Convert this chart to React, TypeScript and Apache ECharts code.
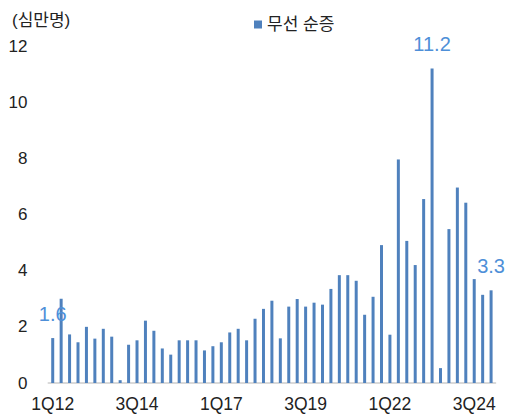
import React, { useEffect, useRef } from "react";
import * as echarts from "echarts";

const years = [12, 13, 14, 15, 16, 17, 18, 19, 20, 21, 22, 23, 24, 25];
const categories: string[] = [];
years.forEach((y) => {
  for (let q = 1; q <= 4; q++) categories.push(`${q}Q${y}`);
});
const quarters = categories.slice(0, 53); // 1Q12 .. 1Q25

const netAdds = [
  1.6, 3.0, 1.73, 1.45, 2.0, 1.58, 1.93, 1.65, 0.1, 1.36,
  1.52, 2.22, 1.86, 1.23, 1.01, 1.52, 1.52, 1.52, 1.16, 1.31,
  1.45, 1.8, 1.93, 1.52, 2.29, 2.64, 2.93, 1.59, 2.72, 2.99,
  2.72, 2.86, 2.79, 3.35, 3.84, 3.84, 3.64, 2.43, 3.07, 4.91,
  1.72, 7.96, 5.06, 4.2, 6.55, 11.2, 0.53, 5.48, 6.96, 6.42,
  3.7, 3.14, 3.3,
];
const labeledIdx = [0, 45, 52];
const yTicks = [0, 2, 4, 6, 8, 10, 12];

const FONT = "'Liberation Sans', Arial, 'Noto Sans CJK KR', sans-serif";

export default function App() {
  const ref = useRef<HTMLDivElement>(null);
  useEffect(() => {
    if (!ref.current) return;
    const chart = echarts.init(ref.current, undefined, { renderer: "svg" });
    chart.setOption({
      animation: false,
      textStyle: { fontFamily: FONT },
      grid: { left: 48.5, right: 13.7, top: 46, bottom: 34, containLabel: false },
      legend: {
        left: 249,
        top: 11,
        itemWidth: 8,
        itemHeight: 8,
        icon: "rect",
        textStyle: { fontSize: 17, color: "#222", fontFamily: FONT },
        data: ["무선 순증"],
      },
      graphic: [
        {
          type: "text",
          left: 12,
          top: 12,
          style: { text: "(심만명)", fontSize: 17, fill: "#222", fontFamily: FONT },
        },
      ],
      xAxis: {
        type: "category",
        data: quarters,
        axisLine: { lineStyle: { color: "#d9d9d9", width: 2 } },
        axisTick: { show: false },
        axisLabel: { interval: 9, fontSize: 17.5, color: "#222", margin: 12, fontFamily: FONT },
      },
      yAxis: {
        type: "value",
        min: yTicks[0],
        max: yTicks[yTicks.length - 1],
        interval: 2,
        splitLine: { show: false },
        axisLine: { show: false },
        axisTick: { show: false },
        axisLabel: { fontSize: 17, color: "#222", margin: 21, fontFamily: FONT },
      },
      series: [
        {
          name: "무선 순증",
          type: "bar",
          barWidth: 3,
          itemStyle: { color: "#4f81bd" },
          data: netAdds.map((v, i) =>
            labeledIdx.includes(i)
              ? {
                  value: v,
                  label: {
                    show: true,
                    position: "top",
                    distance: 14,
                    fontSize: 20,
                    color: "#4e8fd8",
                    fontFamily: FONT,
                    formatter: (p: any) => p.value.toFixed(1),
                  },
                }
              : v
          ),
        },
      ],
    });
    return () => chart.dispose();
  }, []);
  return (
    <div
      ref={ref}
      style={{ position: "absolute", left: 0, top: 0, width: 509, height: 417, background: "#fff" }}
    />
  );
}
